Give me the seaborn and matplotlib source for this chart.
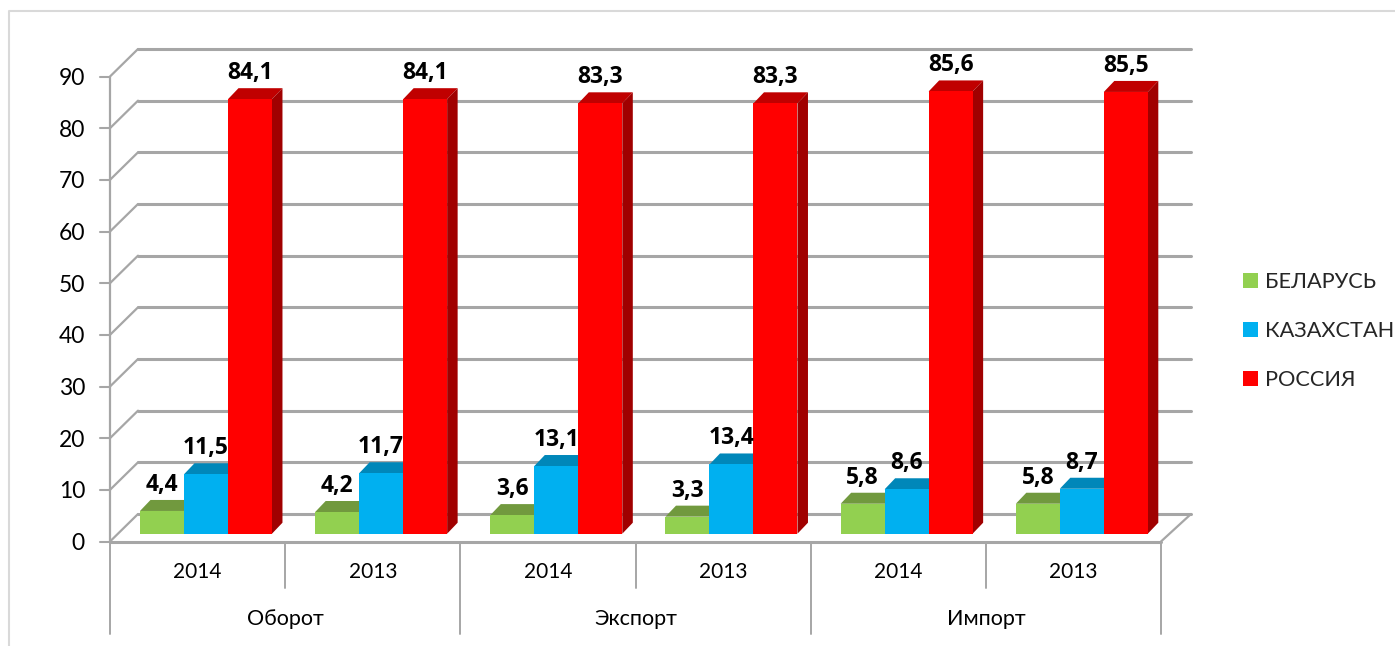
"""3D-looking clustered bars: Belarus / Kazakhstan / Russia shares, 2014 vs 2013."""
import matplotlib
matplotlib.use("Agg")
import matplotlib.pyplot as plt
from matplotlib.lines import Line2D
from matplotlib.patches import Patch, Polygon
import pandas as pd
import seaborn as sns

W, H = 1395, 646
GROUPS = ["Оборот", "Экспорт", "Импорт"]
YEARS = ["2014", "2013"]
SERIES = ["БЕЛАРУСЬ", "КАЗАХСТАН", "РОССИЯ"]
BELARUS = [4.4, 4.2, 3.6, 3.3, 5.8, 5.8]
KAZAKHSTAN = [11.5, 11.7, 13.1, 13.4, 8.6, 8.7]
RUSSIA = [84.1, 84.1, 83.3, 83.3, 85.6, 85.5]
FRONT = ["#92d050", "#00b0f0", "#ff0000"]
TOP = ["#71993e", "#0087b9", "#c00000"]
SIDE = ["#5f8034", "#00709a", "#a00000"]
GRID = "#a6a6a6"

sns.set_theme(style="white")
plt.rcParams["font.family"] = ["Lato", "DejaVu Sans"]

# front plane of the box, in image pixels
X0, X1, Y0, Y90 = 110, 1161, 541.5, 76.5
fig = plt.figure(figsize=(W / 100, H / 100), dpi=100)
fig.patch.set_facecolor("white")
ax = fig.add_axes([X0 / W, 1 - Y0 / H, (X1 - X0) / W, (Y0 - Y90) / H])
ax.patch.set_alpha(0)

# faint chart-area border, left and top only are inside the crop
fig.add_artist(Line2D([9 / W, 9 / W, 1], [0, 1 - 11 / H, 1 - 11 / H], color="#d9d9d9", lw=1.5))

slots = [f"{g} {y}" for g in GROUPS for y in YEARS]
df = pd.DataFrame({
    "slot": slots * 3,
    "series": [s for s in SERIES for _ in slots],
    "value": BELARUS + KAZAKHSTAN + RUSSIA,
})
sns.barplot(data=df, x="slot", y="value", hue="series", order=slots, hue_order=SERIES,
            palette=FRONT, width=132 / 175.2, dodge=True, gap=0, saturation=1, legend=False,
            linewidth=0, ax=ax)
ax.set_xlim(-0.5, 5.5)
ax.set_ylim(0, 90)
ax.set_xlabel("")
ax.set_ylabel("")
ax.set_xticks([])
ax.set_yticks(range(0, 100, 10))
ax.tick_params(axis="y", length=0, pad=18, labelsize=16.5, labelcolor="black")
sns.despine(ax=ax, left=True, bottom=True)

px_x = 6 / (X1 - X0)
px_y = 90 / (Y0 - Y90)

# back wall, floor and the grey diagonals
BACK_X, BACK_Y = 28 * px_x, 27.5 * px_y
for v in range(0, 100, 10):
    ax.plot([-0.5 + BACK_X, 5.5 + 30 * px_x], [v + BACK_Y] * 2, color=GRID, lw=2.2, zorder=0.5, clip_on=False)
    ax.plot([-0.5, -0.5 + BACK_X], [v, v + BACK_Y], color=GRID, lw=1.6, zorder=0.5, clip_on=False)
    ax.plot([-0.5 - 10 * px_x, -0.5], [v, v], color=GRID, lw=1.5, zorder=0.5, clip_on=False)
ax.plot([5.5, 5.5 + 30 * px_x], [0, BACK_Y], color=GRID, lw=1.6, zorder=0.5, clip_on=False)
ax.plot([-0.5, -0.5], [0, 90], color=GRID, lw=1.6, zorder=0.6, clip_on=False)
ax.plot([-0.5, 5.5], [0, 0], color=GRID, lw=2.2, zorder=0.6, clip_on=False)

# lift each bar onto the floor and give it a top and a side face
SHIFT_X, SHIFT_Y = 8.4 * px_x, 7.8 * px_y
DEPTH_X, DEPTH_Y = 10.5 * px_x, 11 * px_y
for i, container in enumerate(ax.containers):
    for bar in container:
        x = bar.get_x() + SHIFT_X
        w = bar.get_width()
        h = bar.get_height()
        bar.set_x(x)
        bar.set_y(SHIFT_Y)
        bar.set_zorder(3 + i)
        bar.set_clip_on(False)
        top = SHIFT_Y + h
        ax.add_patch(Polygon([(x, top), (x + w, top), (x + w + DEPTH_X, top + DEPTH_Y), (x + DEPTH_X, top + DEPTH_Y)],
                             facecolor=TOP[i], edgecolor="none", zorder=2 + i, clip_on=False))
        ax.add_patch(Polygon([(x + w, SHIFT_Y), (x + w + DEPTH_X, SHIFT_Y + DEPTH_Y),
                              (x + w + DEPTH_X, top + DEPTH_Y), (x + w, top)],
                             facecolor=SIDE[i], edgecolor="none", zorder=2 + i, clip_on=False))
        ax.text(x + w / 2, top + DEPTH_Y + 3 * px_y, f"{h:.1f}".replace(".", ","), ha="center", va="bottom",
                fontsize=16.5, fontweight="bold", family="Open Sans", color="black", zorder=10)

# two-level category axis below the plot
trans = ax.get_xaxis_transform()
for i, slot in enumerate(slots):
    ax.text(i, -(572 - Y0) / (Y0 - Y90), YEARS[i % 2], transform=trans, ha="center", va="center",
            fontsize=15, color="black")
    if i % 2:
        continue
    ax.text(i + 0.5, -(619 - Y0) / (Y0 - Y90), GROUPS[i // 2], transform=trans, ha="center", va="center",
            fontsize=15.5, color="black")
    ax.plot([i + 0.5] * 2, [0, -(588 - Y0) / (Y0 - Y90)], transform=trans, color=GRID, lw=1.4, clip_on=False)
for x in [-0.5, 1.5, 3.5, 5.5]:
    ax.plot([x, x], [0, -(634 - Y0) / (Y0 - Y90)], transform=trans, color=GRID, lw=1.4, clip_on=False)

handles = [Patch(facecolor=c, edgecolor="none", label=s) for c, s in zip(FRONT, SERIES)]
fig.legend(handles=handles, loc="center left", bbox_to_anchor=(1243 / W, 1 - 331 / H), frameon=False,
           fontsize=15.7, handlelength=0.69, handleheight=0.69, handletextpad=0.3, labelspacing=1.33,
           borderpad=0, borderaxespad=0)

fig.savefig("out.png", dpi=100)
